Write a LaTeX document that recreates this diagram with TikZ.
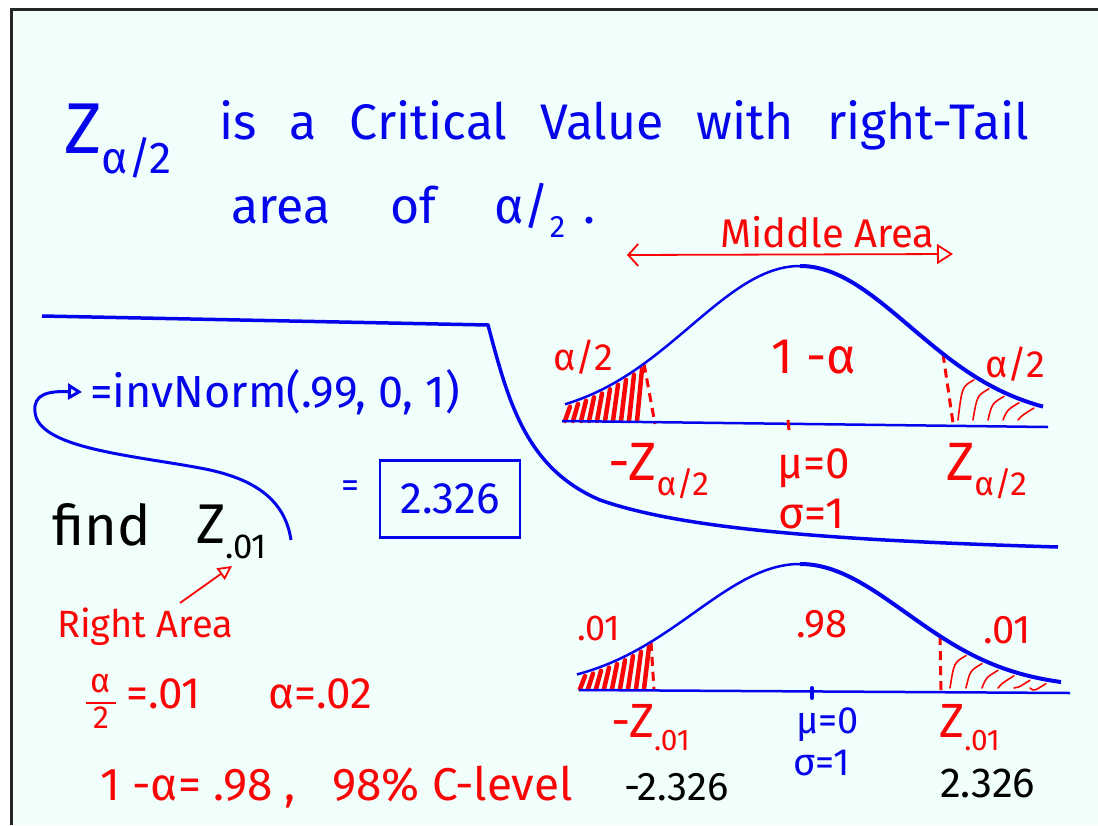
\documentclass[tikz,border=0pt]{standalone}
\usepackage{fontspec}
\setmainfont{Fira Sans}
\usepackage{graphicx}
\usetikzlibrary{arrows.meta,positioning}
\definecolor{boardbg}{RGB}{240,255,252}
\definecolor{penblue}{RGB}{5,5,235}
\definecolor{penred}{RGB}{250,5,5}
\newcommand{\penfont}[1]{\fontsize{#1}{#1}\selectfont}
\newcommand{\lowsub}[1]{\raisebox{-0.28em}{\scalebox{0.62}{#1}}}

\begin{document}
\begin{tikzpicture}[x=1pt, y=-1pt, >=Stealth,
    bluetxt/.style={text=penblue, inner sep=0pt, anchor=base west},
    redtxt/.style={text=penred, inner sep=0pt, anchor=base west},
    blacktxt/.style={text=black, inner sep=0pt, anchor=base west},
    bellline/.style={penblue, line width=2.5pt},
    cutline/.style={penred, line width=3pt, dash pattern=on 9pt off 6pt},
    hatchthick/.style={penred, line width=4.5pt, line cap=round},
    hatchthin/.style={penred, line width=1.6pt, line cap=round},
    declare function={bellA(\x)=420-154*exp(-((\x-800)/110)^2/2);
                      bellB(\x)=688-124*exp(-((\x-800)/106)^2/2);}]
    \useasboundingbox (0,0) rectangle (1098,825);
    % Board
    \fill[white] (0,0) rectangle (1098,825);
    \fill[boardbg] (10,9) rectangle (1098,825);
    \draw[line width=3pt, black!85] (11,825) -- (11,9.5) -- (1098,9.5);

    % Title
    \node[bluetxt, font=\penfont{72}] (zcrit) at (64,153) {Z\lowsub{α/2}};
    \node[bluetxt, font=\penfont{50}] (title1) at (219,139)
        {is\hspace{33pt}a\hspace{33pt}Critical\hspace{33pt}Value\hspace{33pt}with\hspace{33pt}right-Tail};
    \node[bluetxt, font=\penfont{50}] (title2) at (231,223)
        {area\hspace{60pt}of\hspace{58pt}α/\lowsub{2}\hspace{18pt}.};

    % Middle area arrow
    \node[redtxt, font=\penfont{40}] (midlbl) at (720,247) {Middle Area};
    \coordinate (midL) at (627,255);
    \coordinate (midR) at (953,254);
    \draw[penred, line width=1.8pt, {Straight Barb[length=10pt,width=22pt]}-{Triangle[open,length=16pt,width=20pt]}] (midL) -- (midR);

    % Separator
    \draw[penblue, line width=3.5pt] (42,316) -- (488,325)
        .. controls (508,400) and (525,468) .. (600,500)
        .. controls (680,528) and (820,540) .. (1058,547);

    % Upper curve
    \foreach \h in {567,575,...,639}
        \draw[hatchthick] (\h-2,421) -- (\h+3,{bellA(\h+3)+4});
    \foreach \h in {958,973,...,1020}
        \draw[hatchthin] (\h,420) .. controls (\h+4,{bellA(\h+14)+12}) .. (\h+16,{bellA(\h+16)+4});
    \draw[cutline] (644,{bellA(644)}) -- (655,424);
    \draw[cutline] (943,{bellA(943)}) -- (953,423);
    \draw[bellline] (562,421) -- (1048,427);
    \draw[bellline] plot[domain=565:800, samples=50, smooth] (\x,{bellA(\x)});
    \draw[penblue, line width=4pt] plot[domain=800:1043, samples=50, smooth] (\x,{bellA(\x)});
    \draw[penred, line width=3pt] (788,420) -- (789,430);
    \node[redtxt, font=\penfont{38}] (tailL) at (553,370) {α/2};
    \node[redtxt, font=\penfont{50}] (middle) at (771,373) {1\ -α};
    \node[redtxt, font=\penfont{38}] (tailR) at (985,377) {α/2};
    \node[redtxt, font=\penfont{54}] (zlow) at (608,480) {-Z\lowsub{α/2}};
    \node[redtxt, font=\penfont{44}] (meanA) at (777,478) {μ=0};
    \node[redtxt, font=\penfont{44}] (sdA) at (778,528) {σ=1};
    \node[redtxt, font=\penfont{54}] (zhigh) at (946,480) {Z\lowsub{α/2}};

    % Lower curve
    \foreach \h in {582,590,...,646}
        \draw[hatchthick] (\h-2,689) -- (\h+3,{bellB(\h+3)+4});
    \foreach \h in {950,966,...,1030}
        \draw[hatchthin] (\h,688) .. controls (\h+4,{bellB(\h+14)+12}) .. (\h+16,{bellB(\h+16)+4});
    \draw[cutline] (651,{bellB(651)}) -- (654,690);
    \draw[cutline] (940,{bellB(940)}) -- (941,690);
    \draw[bellline] (579,690) -- (1070,693);
    \draw[bellline] plot[domain=577:800, samples=50, smooth] (\x,{bellB(\x)});
    \draw[penblue, line width=4pt] plot[domain=800:1061, samples=50, smooth] (\x,{bellB(\x)});
    \draw[penblue, line width=4pt, line cap=round] (812,688) -- (812,698);
    \node[redtxt, font=\penfont{36}] (pL) at (577,640) {.01};
    \node[redtxt, font=\penfont{40}] (pmid) at (796,637) {.98};
    \node[redtxt, font=\penfont{40}] (pR) at (983,643) {.01};
    \node[redtxt, font=\penfont{48}] (zminus) at (611,737) {-Z\lowsub{.01}};
    \node[bluetxt, font=\penfont{38}] (meanB) at (796,733) {μ=0};
    \node[bluetxt, font=\penfont{38}] (sdB) at (793,775) {σ=1};
    \node[redtxt, font=\penfont{48}] (zplus) at (939,737) {Z\lowsub{.01}};
    \node[blacktxt, font=\penfont{40}] (valL) at (624,800) {-2.326};
    \node[blacktxt, font=\penfont{42}] (valR) at (940,797) {2.326};

    % Calculator
    \node[bluetxt, font=\penfont{45}] (invnorm) at (90,407) {=invNorm(.99, 0, 1)};
    \node[bluetxt, font=\penfont{36}] (eqsign) at (341,497) {=};
    \node[draw=penblue, line width=2.5pt, text=penblue, font=\penfont{44},
          minimum width=140pt, minimum height=77pt, inner sep=0pt] (answer) at (450,499) {2.326};
    \node[blacktxt, font=\penfont{56}] (find) at (52,545) {find};
    \node[blacktxt, font=\penfont{56}] (zfind) at (196,543) {Z\lowsub{.01}};
    \coordinate (loopstart) at (291,540);
    \coordinate (looptip) at (82,392);
    \draw[penblue, line width=3pt, -{Triangle[open,length=14pt,width=16pt]}] (loopstart)
        .. controls (285,500) and (255,478) .. (200,468)
        .. controls (130,455) and (38,448) .. (35,412)
        .. controls (33,394) and (48,391) .. (looptip);

    % Alpha
    \node[redtxt, font=\penfont{38}] (rarea) at (57,637) {Right Area};
    \coordinate (rtail) at (180,603);
    \coordinate (rtip) at (232,566);
    \draw[penred, line width=1.8pt, -{Triangle[open,length=14pt,width=14pt]}] (rtail) -- (rtip);
    \node[text=penred, inner sep=0pt, font=\penfont{34}] (fracnum) at (101,684) {α};
    \node[text=penred, inner sep=0pt, font=\penfont{32}] (fracden) at (101,718) {2};
    \draw[penred, line width=2.5pt] (86,703) -- (116,703);
    \node[redtxt, font=\penfont{44}] (halfalpha) at (126,708) {=.01};
    \node[redtxt, font=\penfont{44}] (alpha) at (268,708) {α=.02};
    \node[redtxt, font=\penfont{46}] (clevel) at (100,800) {1\ -α=\ .98\ ,\ \ \ 98\%\ C-level};
\end{tikzpicture}
\end{document}
